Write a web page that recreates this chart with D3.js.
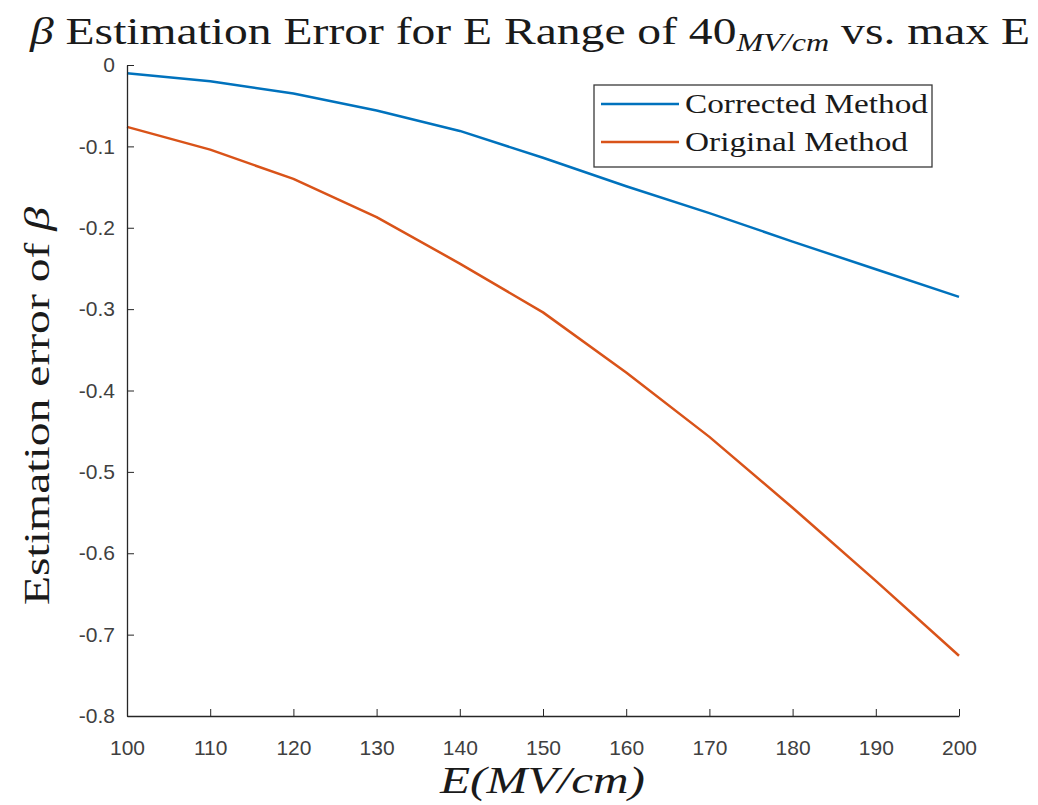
<!DOCTYPE html>
<html>
<head>
<meta charset="utf-8">
<script src="https://cdn.jsdelivr.net/npm/d3@7"></script>
<style>
  html, body { margin: 0; padding: 0; background: #fff; }
  svg { display: block; }
</style>
</head>
<body>
<svg id="chart" width="1038" height="805"></svg>
<script>
// Maximum field strength E (MV/cm)
const maxE = [100, 110, 120, 130, 140, 150, 160, 170, 180, 190, 200];
// Estimation error of beta, corrected method
const correctedErr = [-0.010, -0.020, -0.035, -0.056, -0.081, -0.114, -0.149, -0.182, -0.217, -0.251, -0.285];
// Estimation error of beta, original method
const originalErr = [-0.076, -0.104, -0.140, -0.187, -0.244, -0.304, -0.378, -0.457, -0.544, -0.634, -0.726];
// Tick values
const xTicks = [100, 110, 120, 130, 140, 150, 160, 170, 180, 190, 200];
const yTicks = [0, -0.1, -0.2, -0.3, -0.4, -0.5, -0.6, -0.7, -0.8];
const seriesNames = ["Corrected Method", "Original Method"];
const seriesColors = ["#0072BD", "#D95319"];

const svg = d3.select("#chart");
const plotLeft = 127, plotRight = 959, plotTop = 65, plotBottom = 716;

const x = d3.scaleLinear().domain([100, 200]).range([plotLeft, plotRight]);
const y = d3.scaleLinear().domain([-0.8, 0]).range([plotBottom, plotTop]);

const axisColor = "#262626";
const tickFont = "'Liberation Sans', Arial, sans-serif";
const serif = "'Liberation Serif', 'DejaVu Serif', serif";

// Series lines
const series = [correctedErr, originalErr];
const line = d3.line()
  .x((d, i) => x(maxE[i]))
  .y(d => y(d));
series.forEach((vals, k) => {
  svg.append("path")
    .datum(vals)
    .attr("d", line)
    .attr("fill", "none")
    .attr("stroke", seriesColors[k])
    .attr("stroke-width", 2.5)
    .attr("stroke-linejoin", "round");
});

// X axis (ticks point inward)
const xAxis = svg.append("g")
  .attr("transform", `translate(0,${plotBottom})`)
  .call(d3.axisBottom(x).tickValues(xTicks).tickSizeInner(-7).tickSizeOuter(0).tickPadding(24).tickFormat(d3.format("d")));
xAxis.select(".domain").attr("stroke", axisColor).attr("stroke-width", 1.3);
xAxis.selectAll(".tick line").attr("stroke", axisColor);
xAxis.selectAll(".tick text")
  .attr("fill", "#404040")
  .style("font-family", tickFont)
  .style("font-size", "21px");

// Y axis
const yAxis = svg.append("g")
  .attr("transform", `translate(${plotLeft},0)`)
  .call(d3.axisLeft(y).tickValues(yTicks).tickSizeInner(-7).tickSizeOuter(0).tickPadding(12)
    .tickFormat(d => d === 0 ? "0" : d3.format(".1f")(d).replace("−", "-")));
yAxis.select(".domain").attr("stroke", axisColor).attr("stroke-width", 1.3);
yAxis.selectAll(".tick line").attr("stroke", axisColor);
yAxis.selectAll(".tick text")
  .attr("fill", "#404040")
  .style("font-family", tickFont)
  .style("font-size", "21px");

// Title
const title = svg.append("text")
  .attr("x", 30).attr("y", 44)
  .attr("textLength", 1000)
  .attr("lengthAdjust", "spacingAndGlyphs")
  .style("font-family", serif)
  .style("font-size", "37px")
  .attr("fill", "#1a1a1a");
title.append("tspan").style("font-style", "italic").text("β");
title.append("tspan").text(" Estimation Error for E Range of 40");
title.append("tspan").attr("dy", 7).style("font-style", "italic").style("font-size", "25px").text("MV/cm");
title.append("tspan").attr("dy", -7).text(" vs. max E");

// Axis labels
svg.append("text")
  .attr("x", 440).attr("y", 793)
  .attr("textLength", 205)
  .attr("lengthAdjust", "spacingAndGlyphs")
  .style("font-family", serif)
  .style("font-style", "italic")
  .style("font-size", "37px")
  .attr("fill", "#1a1a1a")
  .text("E(MV/cm)");

const yl = svg.append("text")
  .attr("transform", "translate(49,605) rotate(-90)")
  .attr("textLength", 398)
  .attr("lengthAdjust", "spacingAndGlyphs")
  .style("font-family", serif)
  .style("font-size", "36px")
  .attr("fill", "#1a1a1a");
yl.append("tspan").text("Estimation error of ");
yl.append("tspan").style("font-style", "italic").text("β");

// Legend
const legend = svg.append("g");
legend.append("rect")
  .attr("x", 594).attr("y", 85)
  .attr("width", 338).attr("height", 82)
  .attr("fill", "#fff")
  .attr("stroke", "#3a3a3a")
  .attr("stroke-width", 1.3);
const legendWidths = [243, 223];
seriesNames.forEach((name, k) => {
  const ry = 104 + k * 38;
  legend.append("line")
    .attr("x1", 601).attr("x2", 679)
    .attr("y1", ry).attr("y2", ry)
    .attr("stroke", seriesColors[k])
    .attr("stroke-width", 2.5);
  legend.append("text")
    .attr("x", 685).attr("y", ry + 9)
    .attr("textLength", legendWidths[k])
    .attr("lengthAdjust", "spacingAndGlyphs")
    .style("font-family", serif)
    .style("font-size", "27px")
    .attr("fill", "#1a1a1a")
    .text(name);
});
</script>
</body>
</html>
